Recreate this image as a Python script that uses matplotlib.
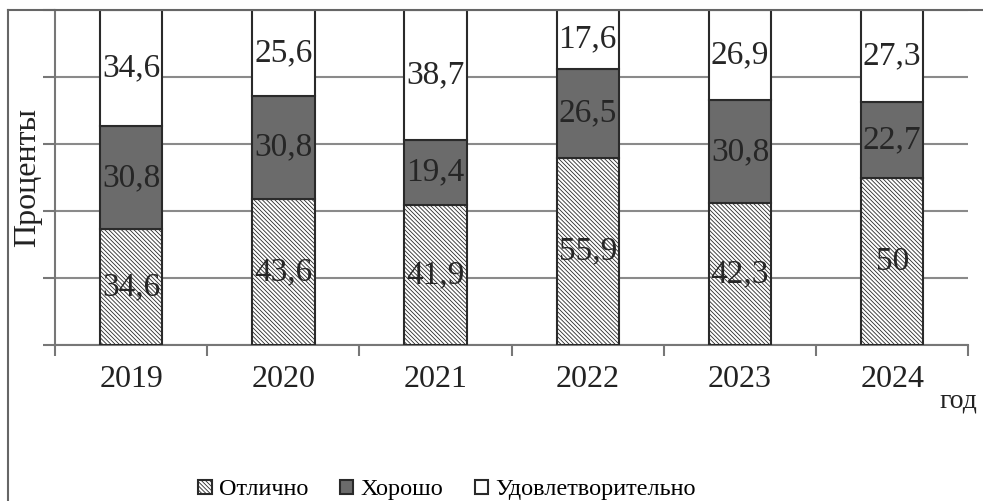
import matplotlib.pyplot as plt
from matplotlib.lines import Line2D

plt.rcParams['font.family'] = ['Liberation Serif', 'DejaVu Serif']
plt.rcParams['hatch.linewidth'] = 0.6

# данные
years = ['2019', '2020', '2021', '2022', '2023', '2024']
excellent = [34.6, 43.6, 41.9, 55.9, 42.3, 50]
good = [30.8, 30.8, 19.4, 26.5, 30.8, 22.7]
satisf = [34.6, 25.6, 38.7, 17.6, 26.9, 27.3]
labels = ['Отлично', 'Хорошо', 'Удовлетворительно']


def fmt(v):
    s = ('%.1f' % v).rstrip('0').rstrip('.')
    return s.replace('.', ',')


fig = plt.figure(figsize=(9.83, 5.01), dpi=100)
ax = fig.add_axes([0.056, 0.311, 0.929, 0.669])

x = list(range(len(years)))
w = 0.41
edge = '#2a2a2a'
b1 = ax.bar(x, excellent, w, color='white', edgecolor=edge, hatch='\\' * 8,
            linewidth=1.5, label=labels[0], zorder=3)
b2 = ax.bar(x, good, w, bottom=excellent, color='#6b6b6b', edgecolor=edge,
            linewidth=1.5, label=labels[1], zorder=3)
bottoms = [a + b for a, b in zip(excellent, good)]
b3 = ax.bar(x, satisf, w, bottom=bottoms, color='white', edgecolor=edge,
            linewidth=1.5, label=labels[2], zorder=3)

# подписи значений
fs = 24
for i in x:
    ax.text(i, excellent[i] / 2, fmt(excellent[i]), ha='center', va='center',
            fontsize=fs, color='#262626', zorder=4)
    ax.text(i, excellent[i] + good[i] / 2, fmt(good[i]), ha='center', va='center',
            fontsize=fs, color='#262626', zorder=4)
    ax.text(i, bottoms[i] + satisf[i] / 2, fmt(satisf[i]), ha='center', va='center',
            fontsize=fs, color='#262626', zorder=4)

ax.set_xlim(-0.5, len(years) - 0.5)
ax.set_ylim(0, 100)
ax.set_yticks([0, 20, 40, 60, 80, 100])
ax.set_yticklabels([])
ax.set_xticks(x)
ax.set_xticklabels(years, fontsize=23, color='#222222')
ax.set_xticks([i - 0.5 for i in range(len(years) + 1)], minor=True)
ax.tick_params(axis='x', which='major', length=0, pad=14)
ax.tick_params(axis='x', which='minor', length=8, width=1.5, color='#777777', direction='out')
ax.tick_params(axis='y', length=9, width=1.5, color='#777777', direction='out')
ax.grid(axis='y', color='#8a8a8a', linewidth=1.5, zorder=0)
ax.set_axisbelow(True)
for s in ['top', 'right']:
    ax.spines[s].set_visible(False)
for s in ['left', 'bottom']:
    ax.spines[s].set_color('#777777')
    ax.spines[s].set_linewidth(1.5)

ax.set_ylabel('Проценты', fontsize=23, color='#222222')
ax.yaxis.set_label_coords(-0.014, 0.5)
fig.text(0.975, 0.2, 'год', fontsize=20, color='#222222', ha='center', va='center')

# рамка рисунка
fig.add_artist(Line2D([0.008, 0.008], [0.0, 0.98], transform=fig.transFigure,
                      color='#666666', linewidth=1.5))
fig.add_artist(Line2D([0.008, 1.0], [0.98, 0.98], transform=fig.transFigure,
                      color='#666666', linewidth=1.5))

fig.legend(handles=[b1, b2, b3], loc='center', bbox_to_anchor=(0.455, 0.022),
           ncol=3, frameon=False, fontsize=17.5, handlelength=0.55, handleheight=0.55,
           handletextpad=0.3, columnspacing=1.3)

fig.savefig('out.png', dpi=100)
